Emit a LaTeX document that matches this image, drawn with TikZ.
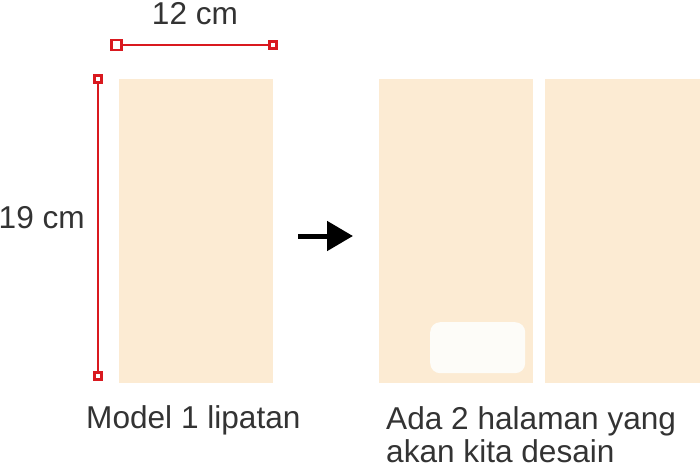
\documentclass[tikz,border=0pt]{standalone}
\usepackage{fontspec}
\setmainfont{Liberation Sans}
\usetikzlibrary{arrows.meta}
\definecolor{paper}{HTML}{FCEBD3}
\definecolor{note}{HTML}{FDFCF8}
\definecolor{dimred}{HTML}{D9191F}
\definecolor{txt}{HTML}{333333}
\begin{document}
\begin{tikzpicture}[x=1pt,y=-1pt,
  page/.style={fill=paper,draw=none,inner sep=0pt,anchor=north west},
  handle/.style={draw=dimred,fill=white,line width=2.8pt,inner sep=0pt,minimum size=7.5pt},
  dimline/.style={draw=dimred,line width=2.6pt},
  label/.style={text=txt,font=\fontsize{31.6}{33}\selectfont,inner sep=0pt}]
\useasboundingbox (0,0) rectangle (700,465);
% pages
\node[page,minimum width=154pt,minimum height=304pt] (p1) at (119,79) {};
\node[page,minimum width=154pt,minimum height=304pt] (p2) at (379,79) {};
\node[page,minimum width=155pt,minimum height=304pt] (p3) at (545,79) {};
\node[fill=note,draw=none,rounded corners=10pt,anchor=north west,inner sep=0pt,minimum width=95pt,minimum height=51pt] (box) at (430,322) {};
% dimension lines
\node[handle,minimum size=10pt] (h1) at (116.5,45) {};
\node[handle] (h2) at (273,45) {};
\draw[dimline] (h1) -- (h2);
\node[handle] (v1) at (98,79) {};
\node[handle] (v2) at (98,376) {};
\draw[dimline] (v1) -- (v2);
% arrow
\coordinate (a1) at (298,236);
\coordinate (a2) at (353,236);
\draw[line width=5pt,-{Triangle[length=26pt,width=29pt]}] (a1) -- (a2);
% texts
\node[label,anchor=base] (t12) at (195,25) {12 cm};
\node[label,anchor=base east] (t19) at (85,228) {19 cm};
\node[label,anchor=base west] (tm) at (86,428) {Model 1 lipatan};
\node[label,anchor=base west] (ta) at (386,429) {Ada 2 halaman yang};
\node[label,anchor=base west] (tb) at (386,462) {akan kita desain};
\end{tikzpicture}
\end{document}
